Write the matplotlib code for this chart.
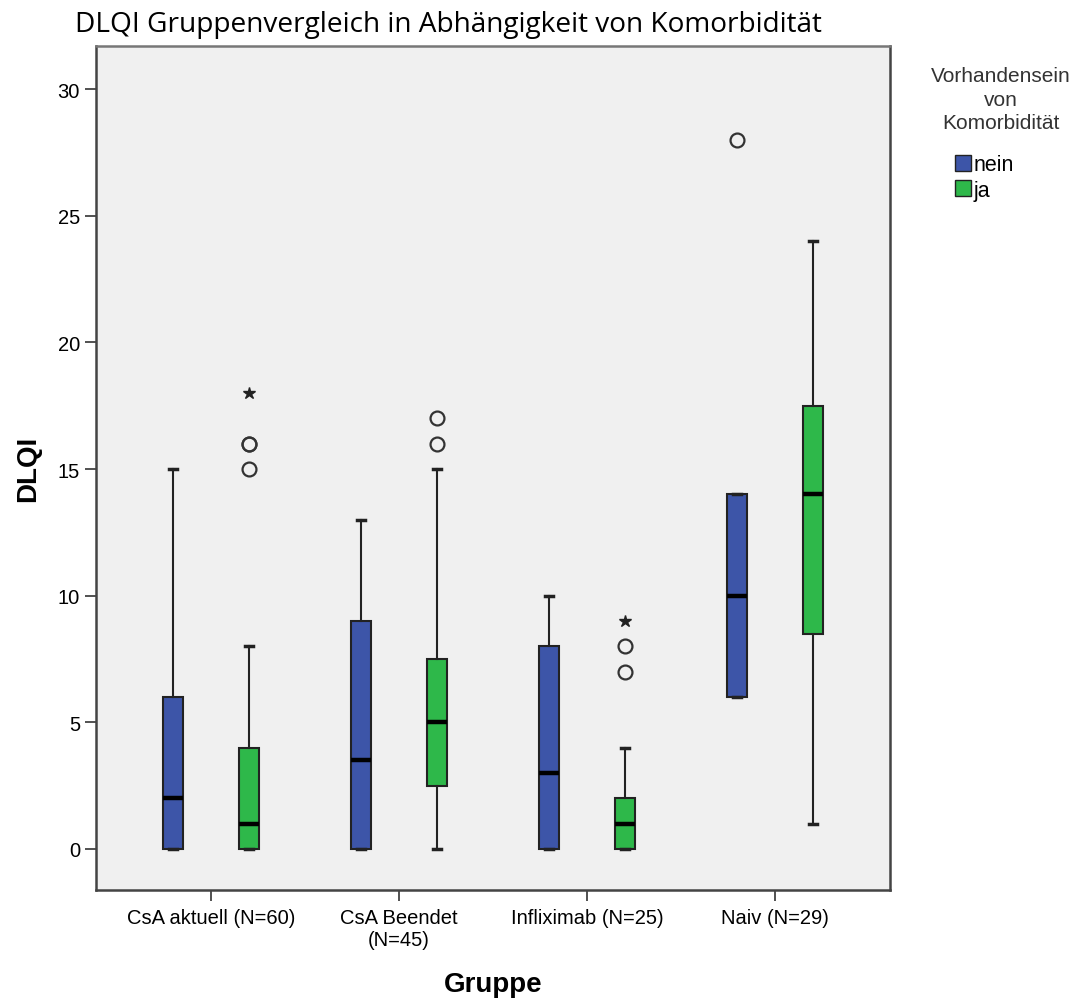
import numpy as np
import matplotlib
matplotlib.use('Agg')
import matplotlib.pyplot as plt
from matplotlib.patches import Patch

plt.rcParams['font.family'] = ['Liberation Sans', 'DejaVu Sans']

gruppen = ['CsA aktuell (N=60)', 'CsA Beendet\n(N=45)', 'Infliximab (N=25)', 'Naiv (N=29)']

# Kennwerte je Gruppe: unteres Whisker-Ende, Q1, Median, Q3, oberes Whisker-Ende
nein_min = [0, 0, 0, 6]
nein_q1 = [0, 0, 0, 6]
nein_med = [2, 3.5, 3, 10]
nein_q3 = [6, 9, 8, 14]
nein_max = [15, 13, 10, 14]
nein_ausreisser = [[], [], [], [28]]
nein_extrem = [[], [], [], []]

ja_min = [0, 0, 0, 1]
ja_q1 = [0, 2.5, 0, 8.5]
ja_med = [1, 5, 1, 14]
ja_q3 = [4, 7.5, 2, 17.5]
ja_max = [8, 15, 4, 24]
ja_ausreisser = [[15, 16, 16], [16, 17], [7, 8], []]
ja_extrem = [[18], [], [9], []]

farbe_nein = '#3D55A8'
farbe_ja = '#2EB84A'


def kennwerte(mins, q1s, meds, q3s, maxs, fl):
    return [dict(whislo=a, q1=b, med=c, q3=d, whishi=e, fliers=f)
            for a, b, c, d, e, f in zip(mins, q1s, meds, q3s, maxs, fl)]


fig = plt.figure(figsize=(10.75, 10.03), dpi=100)
ax = fig.add_axes([0.0893, 0.1117, 0.7386, 0.8414])
ax.set_facecolor('#F0F0F0')

pos = np.arange(len(gruppen))
versatz = 0.202
breite = 0.106

for stats, extrem, farbe, dx in [
        (kennwerte(nein_min, nein_q1, nein_med, nein_q3, nein_max, nein_ausreisser), nein_extrem, farbe_nein, -versatz),
        (kennwerte(ja_min, ja_q1, ja_med, ja_q3, ja_max, ja_ausreisser), ja_extrem, farbe_ja, versatz)]:
    ax.bxp(stats, positions=pos + dx, widths=breite, patch_artist=True,
           boxprops=dict(facecolor=farbe, edgecolor='#222222', linewidth=1.5),
           medianprops=dict(color='black', linewidth=3.2),
           whiskerprops=dict(color='#222222', linewidth=1.5),
           capprops=dict(color='#222222', linewidth=2.5),
           capwidths=0.04,
           flierprops=dict(marker='o', markersize=10, markerfacecolor='none',
                           markeredgecolor='#333333', markeredgewidth=1.6))
    for p, werte in zip(pos + dx, extrem):
        ax.plot([p] * len(werte), werte, linestyle='none', marker='*',
                markersize=9, color='#222222')

ax.set_xlim(-0.612, 3.612)
ax.set_ylim(-1.62, 31.7)
ax.set_xticks(pos)
ax.set_xticklabels(gruppen, fontsize=14.5)
ax.set_yticks(range(0, 31, 5))
ax.tick_params(axis='both', labelsize=14.5, length=8, width=1.2, color='#333333')
ax.tick_params(axis='x', pad=5)

for s in ax.spines.values():
    s.set_color('#444444')
    s.set_linewidth(1.8)
ax.spines['top'].set_color('#777777')

ax.set_ylabel('DLQI', fontsize=20, fontweight='bold', labelpad=12)
ax.set_xlabel('Gruppe', fontsize=20, fontweight='bold', labelpad=16)

fig.text(0.07, 0.975, 'DLQI Gruppenvergleich in Abhängigkeit von Komorbidität',
         fontsize=20.2, family=['Open Sans', 'DejaVu Sans'], va='center', ha='left')

# Legendentitel separat, Einträge darunter linksbündig
fig.text(0.931, 0.933, 'Vorhandensein\nvon\nKomorbidität', fontsize=15,
         color='#333333', ha='center', va='top', multialignment='center',
         linespacing=1.3)
handles = [Patch(facecolor=farbe_nein, edgecolor='#222222', label='nein'),
           Patch(facecolor=farbe_ja, edgecolor='#222222', label='ja')]
fig.legend(handles=handles, loc='upper left', bbox_to_anchor=(0.888, 0.845),
           frameon=False, fontsize=15.5, handlelength=0.75, handleheight=0.75,
           handletextpad=0.15, labelspacing=0.2, borderpad=0, borderaxespad=0)

fig.savefig('out.png', dpi=100)
